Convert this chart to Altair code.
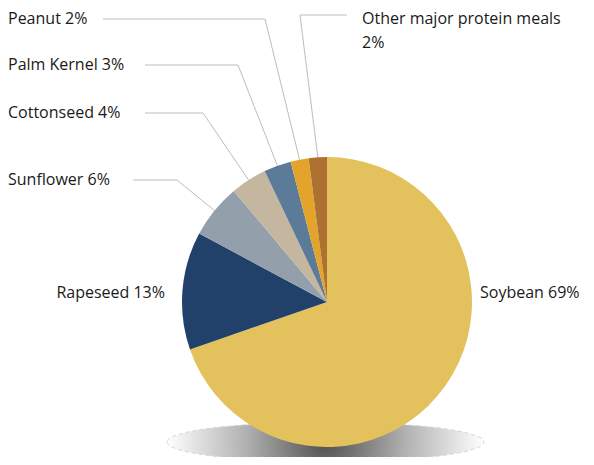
import math
import altair as alt
import pandas as pd

# ---- data ----
categories = ["Soybean", "Rapeseed", "Sunflower", "Cottonseed",
              "Palm Kernel", "Peanut", "Other major protein meals"]
values = [69, 13, 6, 4, 3, 2, 2]
labels = ["Soybean 69%", "Rapeseed 13%", "Sunflower 6%", "Cottonseed 4%",
          "Palm Kernel 3%", "Peanut 2%", "Other major protein meals\n2%"]
colors = ["#E3C15D", "#22416A", "#939FAA", "#C5B6A0",
          "#5B7B99", "#E2A42B", "#AE7230"]

# ---- layout ----
W, H = 578, 449
CX, CY, R = 319, 294, 145
FONT = "Open Sans"
FS = 16

# leader lines (for the small slices)
lead_cats = ["Peanut", "Palm Kernel", "Cottonseed", "Sunflower", "Other major protein meals"]
lead_start_x = [95, 137, 137, 125, 339]
lead_elbow_x = [257, 230, 195, 169, 292]
lead_y = [11, 57, 105, 172, 7]

# label positions
lab_x = {"Soybean": 472, "Rapeseed": 157, "Sunflower": 0, "Cottonseed": 0,
         "Palm Kernel": 0, "Peanut": 0, "Other major protein meals": 354}
lab_y = {"Soybean": 285, "Rapeseed": 285, "Sunflower": 172, "Cottonseed": 105,
         "Palm Kernel": 57, "Peanut": 11, "Other major protein meals": 11}

total = sum(values)
rows = []
edge = {}
cum = 0
for i, (c, v) in enumerate(zip(categories, values)):
    mid = (cum + v / 2) / total * 2 * math.pi
    cum += v
    edge[c] = (CX + R * math.sin(mid), CY - R * math.cos(mid))
    rows.append(dict(cat=c, val=v, order=i))
pie_df = pd.DataFrame(rows)

line_rows = []
for c, sx, ex_, y in zip(lead_cats, lead_start_x, lead_elbow_x, lead_y):
    px, py = edge[c]
    line_rows += [dict(cat=c, k=0, x=sx, y=y), dict(cat=c, k=1, x=ex_, y=y),
                  dict(cat=c, k=2, x=px, y=py)]
line_df = pd.DataFrame(line_rows)

lab_df = pd.DataFrame([dict(cat=c, text=t, x=lab_x[c], y=lab_y[c])
                       for c, t in zip(categories, labels)])

xs = alt.Scale(domain=[0, W], range=[0, W], nice=False, zero=False)
ys = alt.Scale(domain=[0, H], range=[0, H], nice=False, zero=False)

ellipse = "M -1 0 A 1 0.126 0 1 0 1 0 A 1 0.126 0 1 0 -1 0 Z"
shadow = alt.Chart(pd.DataFrame({"a": [0]})).mark_point(
    shape=ellipse, size=317 ** 2, filled=True, opacity=1,
    fill=alt.RadialGradient(
        gradient="radial",
        stops=[alt.GradientStop(offset=0, color="#505050"),
               alt.GradientStop(offset=0.5, color="#b0b0b0"),
               alt.GradientStop(offset=1, color="#ffffff")],
        x1=0.5, y1=0.5, r1=0, x2=0.5, y2=0.5, r2=0.5),
    stroke="#d4d4d4", strokeWidth=1, strokeDash=[4, 3], strokeOpacity=1,
).encode(x=alt.value(317.5), y=alt.value(434))

pie = alt.Chart(pie_df).mark_arc(radius=R).encode(
    theta=alt.Theta("val:Q", stack=True),
    color=alt.Color("cat:N", scale=alt.Scale(domain=categories, range=colors), legend=None),
    order=alt.Order("order:Q"),
    x=alt.value(CX), y=alt.value(CY),
)

lines = alt.Chart(line_df).mark_line(color="#bdbdbd", strokeWidth=1).encode(
    x=alt.X("x:Q", scale=xs, axis=None),
    y=alt.Y("y:Q", scale=ys, axis=None),
    detail="cat:N",
    order="k:Q",
)

def text_layer(cats, align):
    return alt.Chart(lab_df[lab_df["cat"].isin(cats)]).mark_text(
        align=align, baseline="middle", font=FONT, fontSize=FS, color="#1a1a1a",
        lineBreak="\n", lineHeight=24,
    ).encode(
        x=alt.X("x:Q", scale=xs, axis=None),
        y=alt.Y("y:Q", scale=ys, axis=None),
        text="text:N",
    )

left_labels = text_layer(["Soybean", "Sunflower", "Cottonseed", "Palm Kernel",
                          "Peanut", "Other major protein meals"], "left")
right_labels = text_layer(["Rapeseed"], "right")

chart = alt.layer(shadow, lines, pie, left_labels, right_labels).properties(
    width=W, height=H, autosize=alt.AutoSizeParams(type="none"), padding=0,
).configure_view(stroke=None)

chart.save("out.html", embed_options={"renderer": "svg", "actions": False})
